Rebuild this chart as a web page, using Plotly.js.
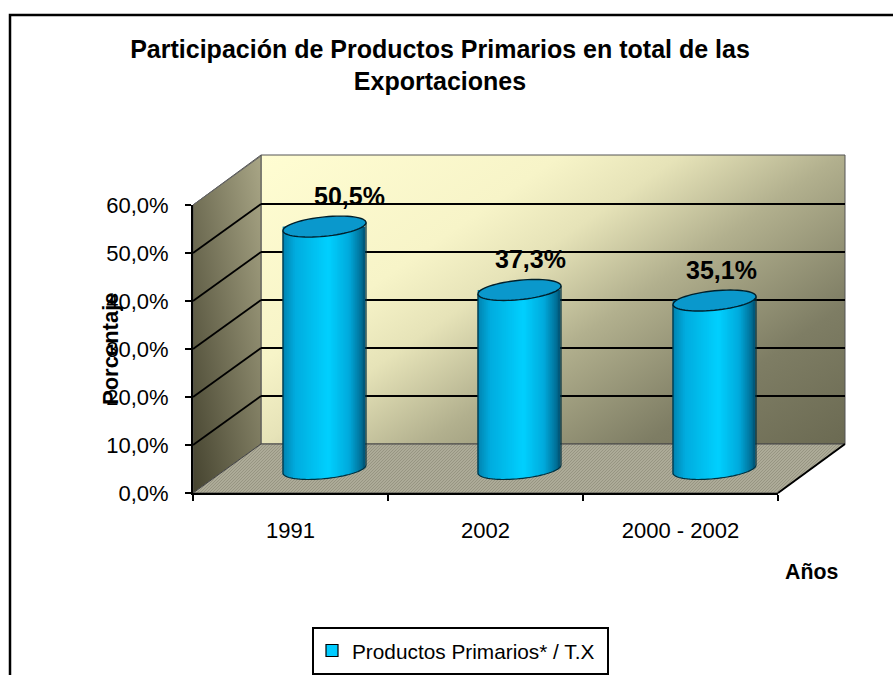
<!DOCTYPE html>
<html><head><meta charset="utf-8">
<script src="https://cdn.plot.ly/plotly-3.0.1.min.js"></script>
<style>html,body{margin:0;padding:0;background:#fff;overflow:hidden}</style>
</head><body><div id="chart" style="width:893px;height:675px"></div>
<script>
const categories = ['1991', '2002', '2000 - 2002'];
const shares = [50.5, 37.3, 35.1];
const seriesName = 'Productos Primarios* / T.X';
const gridValues = [10, 20, 30, 40, 50, 60];
const axisTicks = [0, 10, 20, 30, 40, 50, 60];

const W = 893, H = 675, L = 193, R = 778, T = 205, B = 493;
const pxPerCat = (R - L) / 3, pxPerPct = (B - T) / 60;
const X = p => (p - L) / (R - L), Y = p => (B - p) / (B - T);
const depthX = 68, depthY = 49;
const barShift = 34 / pxPerCat, floorPct = 24 / pxPerPct;
const halfW = 41.5, ry = 9.7, tilt = -4 / 41.5;
const labelShift = [25, 11, 7];

const fmt = v => v.toFixed(1).replace('.', ',') + '%';

// wall backdrop
const svg = `<svg xmlns="http://www.w3.org/2000/svg" width="${W}" height="${H}" viewBox="0 0 ${W} ${H}">
<defs>
<linearGradient id="b" x1="0" y1="0" x2="1.134" y2="0.811"><stop offset="0" stop-color="#fffdd2"/><stop offset=".3" stop-color="#f7f4c8"/><stop offset=".42" stop-color="#e6e3b8"/><stop offset=".58" stop-color="#b2b08e"/><stop offset=".8" stop-color="#7e7d64"/><stop offset="1" stop-color="#6b6a52"/></linearGradient>
<linearGradient id="l" x1="1" y1="0" x2="0" y2="1"><stop offset="0" stop-color="#a9a686"/><stop offset="1" stop-color="#45432f"/></linearGradient>
<pattern id="f" width="3" height="3" patternUnits="userSpaceOnUse"><rect width="3" height="3" fill="#adab98"/><path d="M0 3L3 0" stroke="#979582" stroke-width="1"/></pattern>
</defs>
<polygon points="261,155 845,155 845,444 261,444" fill="url(#b)" stroke="#555" stroke-width="1"/>
<polygon points="193,205 261,155 261,444 193,493" fill="url(#l)" stroke="#555" stroke-width="1"/>
<polygon points="193,493 261,444 845,444 778,493" fill="url(#f)" stroke="#444" stroke-width="1"/>
</svg>`;
const wallsUri = 'data:image/svg+xml;charset=utf-8,' + encodeURIComponent(svg);

const barX = i => i + barShift;

// cylinder body: thin vertical strips, shaded, following the lower rim
const stripX = [], stripBase = [], stripH = [], stripColor = [];
const shade = t => {
  const stops = [[0, [0, 130, 175]], [.15, [0, 172, 222]], [.55, [0, 208, 255]], [.8, [0, 170, 220]], [.95, [0, 110, 150]], [1, [0, 70, 100]]];
  for (let k = 1; k < stops.length; k++) if (t <= stops[k][0]) {
    const a = stops[k - 1], b = stops[k], u = (t - a[0]) / (b[0] - a[0]);
    return 'rgb(' + a[1].map((c, j) => Math.round(c + (b[1][j] - c) * u)).join(',') + ')';
  }
  return 'rgb(0,70,100)';
};
const step = 2;
shares.forEach((v, i) => {
  for (let d = -halfW + step / 2; d < halfW; d += step) {
    const low = tilt * d + ry * Math.sqrt(1 - (d / halfW) ** 2);
    const base = floorPct - low / pxPerPct;
    const top = v + floorPct;
    stripX.push(barX(i) + d / pxPerCat);
    stripBase.push(base);
    stripH.push(top - base);
    stripColor.push(shade((d + halfW) / (2 * halfW)));
  }
});

const ellipseAt = (cx, cyPct, from, to, n) => {
  const pts = [];
  for (let k = 0; k <= n; k++) {
    const a = from + (to - from) * k / n;
    const dx = halfW * Math.cos(a);
    const dy = ry * Math.sin(a) + tilt * dx;   // px, downward positive
    pts.push((k ? 'L' : 'M') + (cx + dx / pxPerCat).toFixed(4) + ',' + (cyPct - dy / pxPerPct).toFixed(3));
  }
  return pts.join(' ');
};

const shapes = [];
// frame and legend box
shapes.push({type:'rect', xref:'paper', yref:'paper', x0:X(10), x1:X(910), y0:Y(700), y1:Y(15), line:{color:'#000', width:2.5}, layer:'below'});
shapes.push({type:'rect', xref:'paper', yref:'paper', x0:X(313), x1:X(608), y0:Y(674), y1:Y(628), line:{color:'#000', width:2}, layer:'below'});
// gridlines on the walls
gridValues.forEach(v => {
  const yBack = Y(B - depthY) + v / 60;
  const yFront = v / 60;
  const c = v === 60 ? '#666' : '#000';
  if (v < 60) shapes.push({type:'line', xref:'paper', yref:'paper', x0:X(L + depthX), x1:X(845), y0:yBack, y1:yBack, line:{color:c, width:2}, layer:'below'});
  shapes.push({type:'line', xref:'paper', yref:'paper', x0:0, x1:X(L + depthX), y0:yFront, y1:yBack, line:{color:c, width:v === 60 ? 1 : 1.8}, layer:'below'});
});
shapes.push({type:'line', xref:'paper', yref:'paper', x0:X(R), x1:X(845), y0:0, y1:Y(444), line:{color:'#000', width:2}, layer:'below'});
// cylinder outline and top
shares.forEach((v, i) => {
  const cx = barX(i), rimTop = v + floorPct;
  const rightX = (cx + halfW / pxPerCat).toFixed(4), leftX = (cx - halfW / pxPerCat).toFixed(4);
  const arc = ellipseAt(cx, floorPct, 0, Math.PI, 40);
  const outline = 'M' + rightX + ',' + (rimTop - tilt * halfW / pxPerPct).toFixed(3) + ' L' + arc.slice(1) +
    ' L' + leftX + ',' + (rimTop + tilt * halfW / pxPerPct).toFixed(3);
  shapes.push({type:'path', xref:'x', yref:'y', path: outline, line:{color:'#00303f', width:1.2}, fillcolor:'rgba(0,0,0,0)', layer:'above'});
  shapes.push({type:'path', xref:'x', yref:'y', path: ellipseAt(cx, rimTop, 0, 2 * Math.PI, 64) + ' Z', line:{color:'#00202c', width:1.4}, fillcolor:'#0a98cc', layer:'above'});
});

const annotations = shares.map((v, i) => ({
  x: barX(i), y: v + floorPct, text: '<b>' + fmt(v) + '</b>', showarrow: false,
  xshift: labelShift[i], yshift: 30.5,
  font: {family:'Liberation Sans, Arial, sans-serif', size:25, color:'#000'},
  xanchor:'center', yanchor:'middle'
}));
annotations.push({xref:'paper', yref:'paper', x:X(811), y:Y(572), text:'<b>Años</b>', showarrow:false, xanchor:'center', yanchor:'middle',
  font:{family:'Liberation Sans, Arial, sans-serif', size:21.3, color:'#000'}});
annotations.push({xref:'paper', yref:'paper', x:X(110), y:Y(349), text:'<b>Porcentaje</b>', showarrow:false, textangle:-90, xanchor:'center', yanchor:'middle',
  font:{family:'Liberation Sans, Arial, sans-serif', size:22, color:'#000'}});

const traces = [
  {type:'bar', name:seriesName, x:shares.map((_, i) => barX(i)), y:shares, base:shares.map(() => floorPct),
   width:2 * (halfW - 3.5) / pxPerCat, marker:{color:'#00ccff', line:{color:'#000', width:1.2}}, hoverinfo:'y', showlegend:true},
  {type:'bar', name:seriesName + ' shading', x:stripX, y:stripH, base:stripBase, width:(step + 0.7) / pxPerCat,
   marker:{color:stripColor, line:{width:0}}, hoverinfo:'skip', showlegend:false}
];

const layout = {
  width:W, height:H, autosize:false, paper_bgcolor:'#fff', plot_bgcolor:'rgba(0,0,0,0)',
  margin:{l:L, r:W - R, t:T, b:H - B, pad:0, autoexpand:false}, barmode:'overlay', separators:',.',
  font:{family:'Liberation Sans, Arial, sans-serif', color:'#000'},
  title:{text:'<b>Participación de Productos Primarios en total de las<br>Exportaciones</b>', x:440 / W, xanchor:'center', y:1 - 57.5 / H, yanchor:'middle',
    font:{family:'Liberation Sans, Arial, sans-serif', size:25, color:'#000'}},
  xaxis:{range:[-0.5, 2.5], tickmode:'array', tickvals:[0, 1, 2], ticktext:categories, ticks:'', ticklabelstandoff:17,
    showgrid:false, zeroline:false, showline:true, linecolor:'#000', linewidth:2,
    tickfont:{size:22, color:'#000'},
    minor:{tickmode:'array', tickvals:[-0.5, 0.5, 1.5, 2.5], ticks:'outside', ticklen:6, tickwidth:2, tickcolor:'#000', showgrid:false}},
  yaxis:{range:[0, 60], tickmode:'array', tickvals:axisTicks, ticktext:axisTicks.map(fmt),
    ticks:'outside', ticklen:6, tickwidth:2, tickcolor:'#000', showgrid:false, zeroline:false, showline:true, linecolor:'#000', linewidth:2,
    ticklabelstandoff:12, tickfont:{size:22, color:'#000'}},
  legend:{x:X(312), xanchor:'left', y:Y(651), yanchor:'middle', bgcolor:'rgba(0,0,0,0)', borderwidth:0, font:{size:20.8, color:'#000'}, itemwidth:30},
  images:[{source:wallsUri, xref:'paper', yref:'paper', x:X(0), y:Y(0), sizex:W / (R - L), sizey:H / (B - T), xanchor:'left', yanchor:'top', sizing:'stretch', layer:'below'}],
  shapes, annotations
};
Plotly.newPlot('chart', traces, layout, {displayModeBar:false, responsive:false});
</script></body></html>
